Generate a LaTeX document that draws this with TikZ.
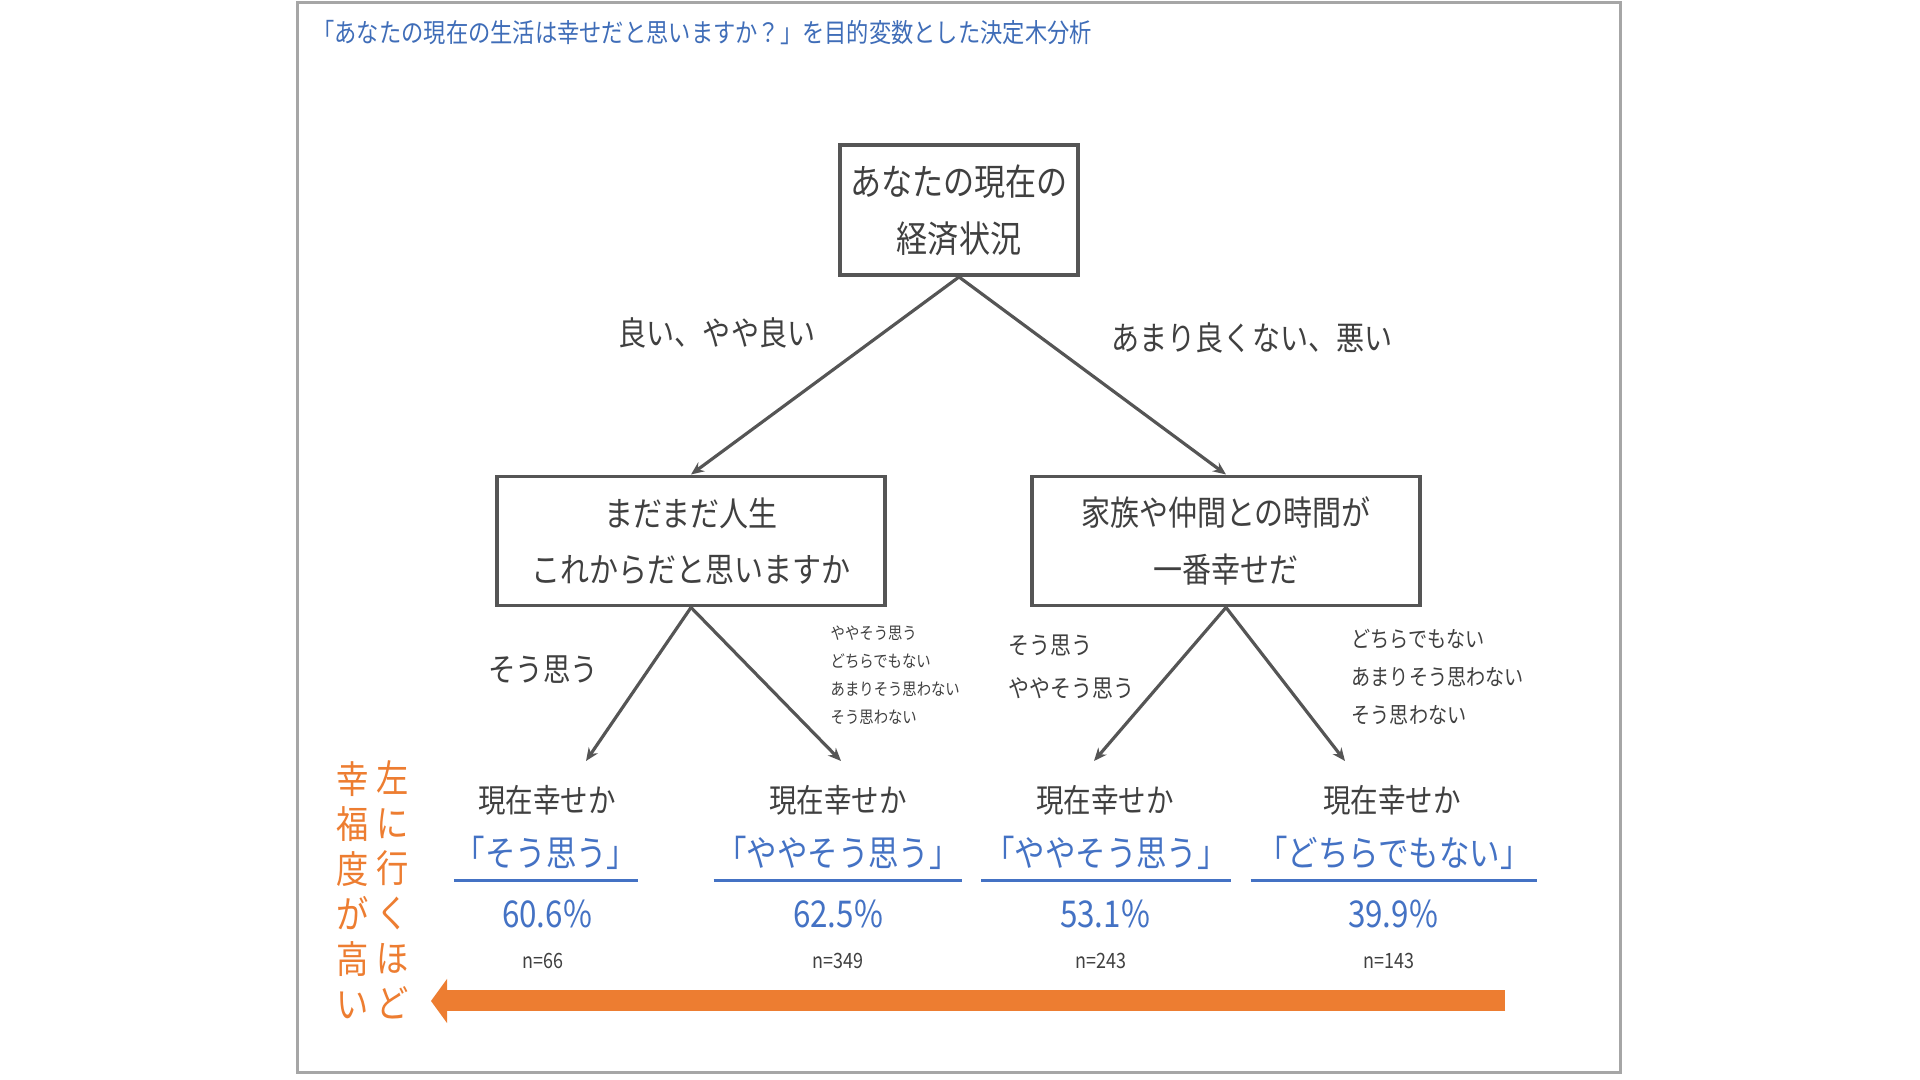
\documentclass[tikz,border=0pt]{standalone}
\usepackage{fontspec}
\setmainfont{Noto Sans CJK JP}[FakeStretch=0.85]
\usepackage{xcolor}
\usetikzlibrary{arrows.meta}

\definecolor{inkgray}{HTML}{404040}
\definecolor{edgegray}{HTML}{555555}
\definecolor{framegray}{HTML}{A6A6A6}
\definecolor{titleblue}{HTML}{3F6DB8}
\definecolor{answerblue}{HTML}{4472C4}
\definecolor{scaleorange}{HTML}{ED7D31}

\newcommand{\setfs}[2]{\fontsize{#1}{#2}\selectfont}

\begin{document}
\begin{tikzpicture}[
  x=0.01cm, y=-0.01cm,
  text=inkgray,
  heading/.style={
    anchor=west,
    text=titleblue,
    font=\setfs{7.45pt}{9pt}
  },
  question/.style={
    draw=edgegray,
    line width=1.1pt,
    minimum width=3.87cm,
    minimum height=1.29cm,
    align=center,
    inner sep=0pt,
    font=\setfs{9.7pt}{16pt}
  },
  rootbox/.style={
    question,
    minimum width=2.38cm,
    minimum height=1.30cm,
    font=\setfs{10.4pt}{16.2pt}
  },
  edgetext/.style={font=\setfs{9.4pt}{12pt}},
  choices/.style={anchor=west, align=left, inner xsep=0pt},
  leafq/.style={font=\setfs{9.2pt}{11pt}},
  answer/.style={
    text=answerblue,
    font=\setfs{10.2pt}{12pt},
    inner xsep=0pt,
    inner ysep=0.1cm
  },
  rate/.style={text=answerblue, font=\setfs{10.5pt}{12pt}},
  count/.style={font=\setfs{6pt}{7pt}},
  uline/.style={draw=answerblue, line width=0.9pt},
  arrow/.style={draw=edgegray, line width=0.9pt, -{Stealth[length=0.13cm, width=0.11cm]}},
  scalearrow/.style={draw=scaleorange, line width=0.21cm, -{Triangle[length=0.16cm, width=0.44cm, line width=0pt]}},
  vtext/.style={text=scaleorange, align=center, font=\setfs{10.8pt}{12.8pt}}
]

\fill[white] (0,0) rectangle (1920,1080);
\useasboundingbox (0,0) rectangle (1920,1080);
\draw[framegray, line width=0.03cm] (297,3) rectangle (1620,1073);

% Title
\node[heading] (head) at (300,33) {「あなたの現在の生活は幸せだと思いますか？」を目的変数とした決定木分析};

% Questions
\node[rootbox] (root) at (959,210) {あなたの現在の\\経済状況};
\node[question] (life) at (691,541) {まだまだ人生\\これからだと思いますか};
\node[question] (family) at (1226,541) {家族や仲間との時間が\\一番幸せだ};

% Branch texts
\node[edgetext] (good) at (717,333) {良い、やや良い};
\node[edgetext] (bad) at (1252,338) {あまり良くない、悪い};
\node[edgetext, font=\setfs{9.2pt}{11pt}] (yes) at (543,670) {そう思う};
\node[choices, font=\setfs{4.8pt}{8pt}] (lifeno) at (830,675) {ややそう思う\\どちらでもない\\あまりそう思わない\\そう思わない};
\node[choices, font=\setfs{7pt}{12.2pt}] (familyyes) at (1008,667) {そう思う\\ややそう思う};
\node[choices, font=\setfs{6.4pt}{10.8pt}] (familyno) at (1351,677) {どちらでもない\\あまりそう思わない\\そう思わない};

% Leaves
\node[leafq] (q1) at (547,800) {現在幸せか};
\node[answer, minimum width=1.75cm] (a1) at (546,853) {「そう思う」};
\node[rate] (p1) at (547,914) {60.6\%};
\node[count] (n1) at (543,961) {n=66};

\node[leafq] (q2) at (838,800) {現在幸せか};
\node[answer, minimum width=2.47cm] (a2) at (838,853) {「ややそう思う」};
\node[rate] (p2) at (838,914) {62.5\%};
\node[count] (n2) at (838,961) {n=349};

\node[leafq] (q3) at (1105,800) {現在幸せか};
\node[answer, minimum width=2.48cm] (a3) at (1106,853) {「ややそう思う」};
\node[rate] (p3) at (1105,914) {53.1\%};
\node[count] (n3) at (1101,961) {n=243};

\node[leafq] (q4) at (1392,800) {現在幸せか};
\node[answer, minimum width=2.85cm] (a4) at (1394,853) {「どちらでもない」};
\node[rate] (p4) at (1393,914) {39.9\%};
\node[count] (n4) at (1389,961) {n=143};

% Underlines
\draw[uline] (a1.south west) -- (a1.south east);
\draw[uline] (a2.south west) -- (a2.south east);
\draw[uline] (a3.south west) -- (a3.south east);
\draw[uline] (a4.south west) -- (a4.south east);

% Arrows
\coordinate (tip1) at (586,761);
\coordinate (tip2) at (841,761);
\coordinate (tip3) at (1094,761);
\coordinate (tip4) at (1345,761);

\draw[arrow] (root.south) -- (life.north);
\draw[arrow] (root.south) -- (family.north);
\draw[arrow] (life.south) -- (tip1);
\draw[arrow] (life.south) -- (tip2);
\draw[arrow] (family.south) -- (tip3);
\draw[arrow] (family.south) -- (tip4);

% Happiness scale
\coordinate (scaleR) at (1505,1001);
\coordinate (scaleL) at (431,1001);
\draw[scalearrow] (scaleR) -- (scaleL);

\node[vtext] (further) at (393,890) {左\\に\\行\\く\\ほ\\ど};
\node[vtext] (higher) at (353,890) {幸\\福\\度\\が\\高\\い};

\end{tikzpicture}
\end{document}
